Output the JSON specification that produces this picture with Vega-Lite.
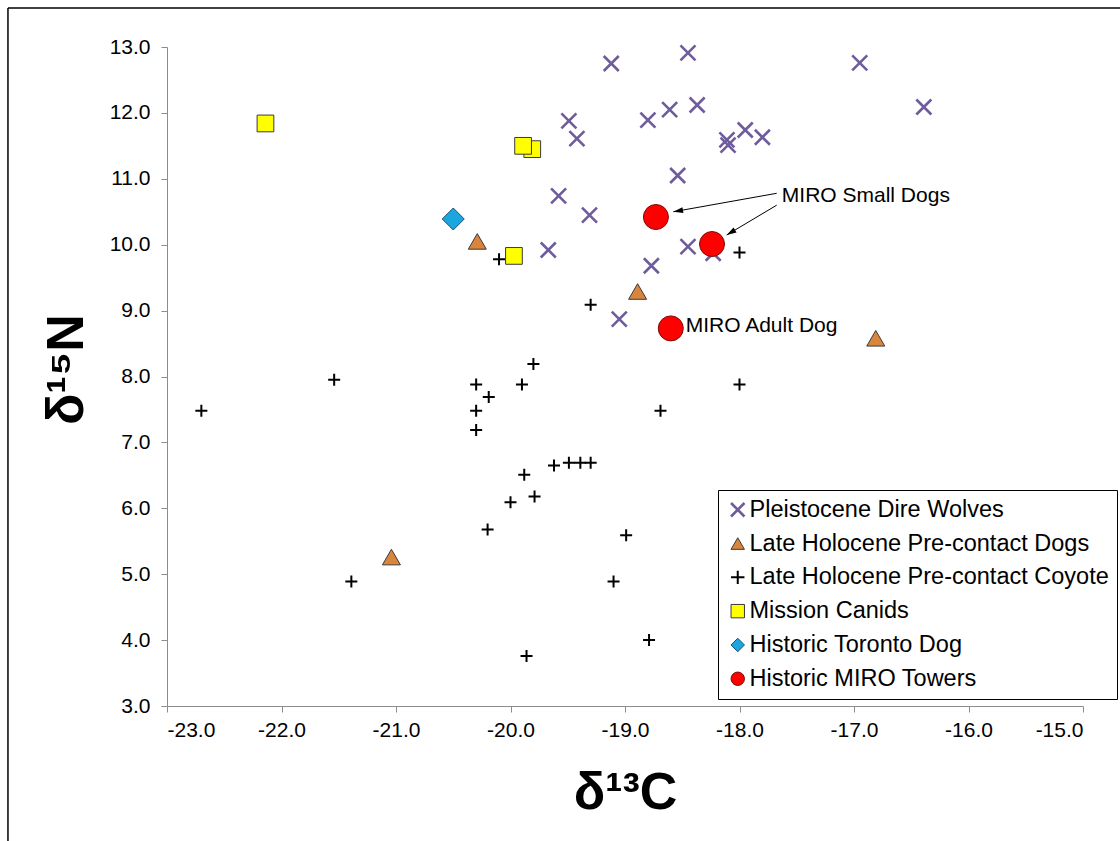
{
  "$schema": "https://vega.github.io/schema/vega-lite/v6.json",
  "width": 916,
  "height": 659,
  "autosize": "none",
  "padding": {"left": 167, "top": 47, "right": 37, "bottom": 135},
  "background": "white",
  "config": {
    "view": {"stroke": null},
    "font": "Liberation Sans",
    "axis": {"grid": false, "domainColor": "#8c8c8c", "tickColor": "#8c8c8c", "tickSize": 6, "labelFontSize": 21, "labelColor": "#000000", "labelFont": "Liberation Sans"}
  },
  "datasets": {
    "pts": [
      {"group": "Pleistocene Dire Wolves", "C": -19.12, "N": 12.75},
      {"group": "Pleistocene Dire Wolves", "C": -18.45, "N": 12.91},
      {"group": "Pleistocene Dire Wolves", "C": -16.95, "N": 12.76},
      {"group": "Pleistocene Dire Wolves", "C": -16.39, "N": 12.09},
      {"group": "Pleistocene Dire Wolves", "C": -19.49, "N": 11.88},
      {"group": "Pleistocene Dire Wolves", "C": -19.42, "N": 11.61},
      {"group": "Pleistocene Dire Wolves", "C": -18.80, "N": 11.89},
      {"group": "Pleistocene Dire Wolves", "C": -18.61, "N": 12.05},
      {"group": "Pleistocene Dire Wolves", "C": -18.37, "N": 12.12},
      {"group": "Pleistocene Dire Wolves", "C": -18.11, "N": 11.59},
      {"group": "Pleistocene Dire Wolves", "C": -18.10, "N": 11.51},
      {"group": "Pleistocene Dire Wolves", "C": -17.95, "N": 11.74},
      {"group": "Pleistocene Dire Wolves", "C": -17.80, "N": 11.63},
      {"group": "Pleistocene Dire Wolves", "C": -18.54, "N": 11.05},
      {"group": "Pleistocene Dire Wolves", "C": -19.58, "N": 10.74},
      {"group": "Pleistocene Dire Wolves", "C": -19.31, "N": 10.45},
      {"group": "Pleistocene Dire Wolves", "C": -19.67, "N": 9.92},
      {"group": "Pleistocene Dire Wolves", "C": -18.45, "N": 9.97},
      {"group": "Pleistocene Dire Wolves", "C": -18.77, "N": 9.68},
      {"group": "Pleistocene Dire Wolves", "C": -19.05, "N": 8.87},
      {"group": "Pleistocene Dire Wolves", "C": -18.23, "N": 9.87},
      {"group": "Late Holocene Pre-contact Dogs", "C": -20.29, "N": 10.05},
      {"group": "Late Holocene Pre-contact Dogs", "C": -18.89, "N": 9.29},
      {"group": "Late Holocene Pre-contact Dogs", "C": -16.81, "N": 8.58},
      {"group": "Late Holocene Pre-contact Dogs", "C": -21.04, "N": 5.26},
      {"group": "Late Holocene Pre-contact Coyote", "C": -20.10, "N": 9.78},
      {"group": "Late Holocene Pre-contact Coyote", "C": -22.70, "N": 7.48},
      {"group": "Late Holocene Pre-contact Coyote", "C": -21.54, "N": 7.95},
      {"group": "Late Holocene Pre-contact Coyote", "C": -20.30, "N": 7.88},
      {"group": "Late Holocene Pre-contact Coyote", "C": -20.19, "N": 7.69},
      {"group": "Late Holocene Pre-contact Coyote", "C": -20.30, "N": 7.48},
      {"group": "Late Holocene Pre-contact Coyote", "C": -20.30, "N": 7.19},
      {"group": "Late Holocene Pre-contact Coyote", "C": -19.90, "N": 7.88},
      {"group": "Late Holocene Pre-contact Coyote", "C": -19.80, "N": 8.19},
      {"group": "Late Holocene Pre-contact Coyote", "C": -19.88, "N": 6.51},
      {"group": "Late Holocene Pre-contact Coyote", "C": -19.62, "N": 6.65},
      {"group": "Late Holocene Pre-contact Coyote", "C": -19.49, "N": 6.69},
      {"group": "Late Holocene Pre-contact Coyote", "C": -19.39, "N": 6.69},
      {"group": "Late Holocene Pre-contact Coyote", "C": -19.30, "N": 6.69},
      {"group": "Late Holocene Pre-contact Coyote", "C": -18.00, "N": 9.88},
      {"group": "Late Holocene Pre-contact Coyote", "C": -19.30, "N": 9.09},
      {"group": "Late Holocene Pre-contact Coyote", "C": -18.00, "N": 7.88},
      {"group": "Late Holocene Pre-contact Coyote", "C": -18.69, "N": 7.48},
      {"group": "Late Holocene Pre-contact Coyote", "C": -20.00, "N": 6.09},
      {"group": "Late Holocene Pre-contact Coyote", "C": -19.79, "N": 6.18},
      {"group": "Late Holocene Pre-contact Coyote", "C": -20.20, "N": 5.68},
      {"group": "Late Holocene Pre-contact Coyote", "C": -18.99, "N": 5.59},
      {"group": "Late Holocene Pre-contact Coyote", "C": -21.39, "N": 4.89},
      {"group": "Late Holocene Pre-contact Coyote", "C": -19.10, "N": 4.89},
      {"group": "Late Holocene Pre-contact Coyote", "C": -18.79, "N": 4.00},
      {"group": "Late Holocene Pre-contact Coyote", "C": -19.86, "N": 3.76},
      {"group": "Mission Canids", "C": -22.14, "N": 11.84},
      {"group": "Mission Canids", "C": -19.81, "N": 11.45},
      {"group": "Mission Canids", "C": -19.89, "N": 11.50},
      {"group": "Mission Canids", "C": -19.97, "N": 9.83},
      {"group": "Historic Toronto Dog", "C": -20.50, "N": 10.39},
      {"group": "Historic MIRO Towers", "C": -18.73, "N": 10.42},
      {"group": "Historic MIRO Towers", "C": -18.24, "N": 10.01},
      {"group": "Historic MIRO Towers", "C": -18.60, "N": 8.73}
    ],
    "arrows": [
      {"id": 1, "C": -17.675, "N": 10.78, "C2": -18.578, "N2": 10.50},
      {"id": 2, "C": -17.675, "N": 10.60, "C2": -18.112, "N2": 10.147}
    ],
    "heads": [
      {"id": 1, "C": -18.578, "N": 10.50},
      {"id": 2, "C": -18.112, "N": 10.147}
    ],
    "labels": [
      {"text": "MIRO Small Dogs", "C": -17.63, "N": 10.74},
      {"text": "MIRO Adult Dog", "C": -18.47, "N": 8.77}
    ],
    "frame": [
      {"C": -24.389, "N": 13.592, "C2": -24.389, "N2": 0.9},
      {"C": -24.389, "N": 13.592, "C2": -14.6, "N2": 13.592}
    ]
  },
  "layer": [
    {
      "data": {"name": "pts"},
      "mark": {"type": "point", "filled": true, "opacity": 1},
      "encoding": {
        "x": {"field": "C", "type": "quantitative", "title": "δ¹³C",
          "scale": {"domain": [-23, -15], "nice": false, "zero": false},
          "axis": {"values": [-23, -22, -21, -20, -19, -18, -17, -16, -15], "labelExpr": "replace(format(datum.value, '.1f'), '\u2212', '-')", "labelPadding": 7, "titleFontSize": 52, "titleFontWeight": "bold", "titleFont": "Liberation Sans", "titleColor": "#000000", "titleY": 86, "titleBaseline": "middle"}},
        "y": {"field": "N", "type": "quantitative", "title": "δ¹⁵N",
          "scale": {"domain": [3, 13], "nice": false, "zero": false},
          "axis": {"values": [3, 4, 5, 6, 7, 8, 9, 10, 11, 12, 13], "format": ".1f", "labelPadding": 11, "titleFontSize": 52, "titleFontWeight": "bold", "titleFont": "Liberation Sans", "titleColor": "#000000", "titleX": -101, "titleY": 322, "titleAngle": -90, "titleAlign": "center", "titleBaseline": "middle"}},
        "shape": {"field": "group", "type": "nominal",
          "scale": {"domain": ["Pleistocene Dire Wolves", "Late Holocene Pre-contact Dogs", "Late Holocene Pre-contact Coyote", "Mission Canids", "Historic Toronto Dog", "Historic MIRO Towers"],
            "range": ["M-1,-1L1,1M1,-1L-1,1", "triangle-up", "M-1,0L1,0M0,-1L0,1", "square", "diamond", "circle"]},
          "legend": {"title": null, "orient": "none", "legendX": 551, "legendY": 443, "labelFontSize": 23.5, "labelFont": "Liberation Sans", "labelColor": "#000000", "strokeColor": "#000000", "fillColor": "white", "padding": 8, "rowPadding": 8.8, "symbolSize": 180, "labelOffset": 0, "labelLimit": 500}},
        "fill": {"field": "group", "type": "nominal",
          "scale": {"domain": ["Pleistocene Dire Wolves", "Late Holocene Pre-contact Dogs", "Late Holocene Pre-contact Coyote", "Mission Canids", "Historic Toronto Dog", "Historic MIRO Towers"],
            "range": ["transparent", "#D9853B", "transparent", "#FFFF00", "#1CA6DF", "#FF0000"]},
          "legend": {"title": null}},
        "stroke": {"field": "group", "type": "nominal",
          "scale": {"domain": ["Pleistocene Dire Wolves", "Late Holocene Pre-contact Dogs", "Late Holocene Pre-contact Coyote", "Mission Canids", "Historic Toronto Dog", "Historic MIRO Towers"],
            "range": ["#6E5C9C", "#3a3a3a", "#000000", "#3a3a3a", "#1a4f70", "#7a0a0a"]},
          "legend": {"title": null}},
        "strokeWidth": {"field": "group", "type": "nominal",
          "scale": {"type": "ordinal", "domain": ["Pleistocene Dire Wolves", "Late Holocene Pre-contact Dogs", "Late Holocene Pre-contact Coyote", "Mission Canids", "Historic Toronto Dog", "Historic MIRO Towers"],
            "range": [2.6, 1, 2, 1, 1, 1]},
          "legend": {"title": null}},
        "size": {"field": "group", "type": "nominal", "legend": null,
          "scale": {"type": "ordinal", "domain": ["Historic MIRO Towers", "Historic Toronto Dog", "Mission Canids", "Late Holocene Pre-contact Coyote", "Late Holocene Pre-contact Dogs", "Pleistocene Dire Wolves"],
            "range": [625, 484, 280, 144, 324, 225]}}
      }
    },
    {
      "data": {"name": "arrows"},
      "mark": {"type": "rule", "color": "#000000", "strokeWidth": 1},
      "encoding": {
        "x": {"field": "C", "type": "quantitative", "title": "δ¹³C"},
        "y": {"field": "N", "type": "quantitative", "title": "δ¹⁵N"},
        "x2": {"field": "C2"},
        "y2": {"field": "N2"}
      }
    },
    {
      "data": {"name": "frame"},
      "mark": {"type": "rule", "color": "#000000", "strokeWidth": 1.5},
      "encoding": {
        "x": {"field": "C", "type": "quantitative", "title": "δ¹³C"},
        "y": {"field": "N", "type": "quantitative", "title": "δ¹⁵N"},
        "x2": {"field": "C2"},
        "y2": {"field": "N2"}
      }
    },
    {
      "data": {"name": "heads"},
      "transform": [{"filter": "datum.id == 1"}],
      "mark": {"type": "point", "shape": "M0,0L-0.45,1.5L0.45,1.5Z", "filled": true, "color": "#000000", "opacity": 1, "size": 169, "angle": 260},
      "encoding": {
        "x": {"field": "C", "type": "quantitative", "title": "δ¹³C"},
        "y": {"field": "N", "type": "quantitative", "title": "δ¹⁵N"}
      }
    },
    {
      "data": {"name": "heads"},
      "transform": [{"filter": "datum.id == 2"}],
      "mark": {"type": "point", "shape": "M0,0L-0.45,1.5L0.45,1.5Z", "filled": true, "color": "#000000", "opacity": 1, "size": 169, "angle": 239},
      "encoding": {
        "x": {"field": "C", "type": "quantitative", "title": "δ¹³C"},
        "y": {"field": "N", "type": "quantitative", "title": "δ¹⁵N"}
      }
    },
    {
      "data": {"name": "labels"},
      "mark": {"type": "text", "align": "left", "baseline": "middle", "fontSize": 21, "font": "Liberation Sans", "color": "#000000"},
      "encoding": {
        "x": {"field": "C", "type": "quantitative", "title": "δ¹³C"},
        "y": {"field": "N", "type": "quantitative", "title": "δ¹⁵N"},
        "text": {"field": "text"}
      }
    }
  ]
}
